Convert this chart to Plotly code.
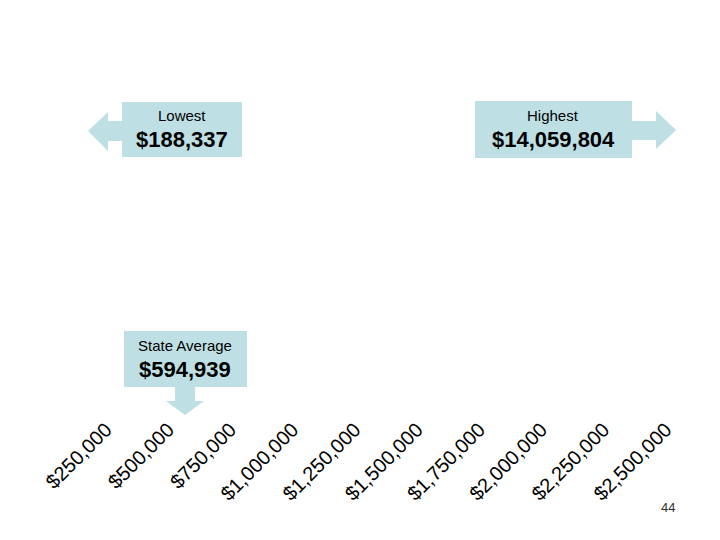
import plotly.graph_objects as go

# axis ticks (income scale)
tick_values = [250000, 500000, 750000, 1000000, 1250000, 1500000,
               1750000, 2000000, 2250000, 2500000]
tick_labels = ["$250,000", "$500,000", "$750,000", "$1,000,000", "$1,250,000",
               "$1,500,000", "$1,750,000", "$2,000,000", "$2,250,000", "$2,500,000"]

# callouts
callout_titles = ["Lowest", "Highest", "State Average"]
callout_values = ["$188,337", "$14,059,804", "$594,939"]

page_number = "44"

W, H = 720, 540
OFF = 8  # page body margin in the browser
BOTTOM = 135
PLOT_H = H - BOTTOM
BOX_COLOR = "#BEE0E4"
FONT = "Arial, Liberation Sans, sans-serif"

# pixel scale of the axis: 250,000 per tick step
px_first, px_step = 98, 62.2
x0 = tick_values[0] - px_first / px_step * 250000
x1 = x0 + W / px_step * 250000


def px(x, y):
    # screen pixel (from top-left) -> paper coords
    return (x - OFF) / W, 1 - (y - OFF) / PLOT_H


def path(points):
    pts = [px(x, y) for x, y in points]
    return "M " + " L ".join(f"{a:.5f},{b:.5f}" for a, b in pts) + " Z"


# callout outlines in pixels: box rect, arrow polygon
boxes = [
    ((122, 102, 242, 157),
     [(88, 131), (108, 112), (108, 121), (123, 121), (123, 141), (108, 141), (108, 151)]),
    ((475, 101, 632, 158),
     [(676, 130), (656, 111), (656, 121), (631, 121), (631, 140), (656, 140), (656, 149)]),
    ((124, 331, 247, 387),
     [(185, 415), (166, 401), (175, 401), (175, 386), (195, 386), (195, 401), (204, 401)]),
]
text_pos = [(182, 116, 139), (553, 116, 139), (185, 345, 369)]

fig = go.Figure()

shapes = []
for (bx0, by0, bx1, by1), arrow in boxes:
    ax0, ay0 = px(bx0, by1)
    ax1, ay1 = px(bx1, by0)
    shapes.append(dict(type="rect", xref="paper", yref="paper",
                       x0=ax0, y0=ay0, x1=ax1, y1=ay1,
                       fillcolor=BOX_COLOR, line_width=0, layer="below"))
    shapes.append(dict(type="path", xref="paper", yref="paper", path=path(arrow),
                       fillcolor=BOX_COLOR, line_width=0, layer="below"))

annotations = []
for title, value, (cx, ty, vy) in zip(callout_titles, callout_values, text_pos):
    annotations.append(dict(text=title, xref="paper", yref="paper",
                            x=px(cx, ty)[0], y=px(cx, ty)[1], showarrow=False,
                            xanchor="center", yanchor="middle",
                            font=dict(family=FONT, size=15, color="#000000")))
    annotations.append(dict(text=f"<b>{value}</b>", xref="paper", yref="paper",
                            x=px(cx, vy)[0], y=px(cx, vy)[1], showarrow=False,
                            xanchor="center", yanchor="middle",
                            font=dict(family=FONT, size=22, color="#000000")))
annotations.append(dict(text=page_number, xref="paper", yref="paper",
                        x=px(668, 507)[0], y=px(668, 507)[1], showarrow=False,
                        xanchor="center", yanchor="middle",
                        font=dict(family=FONT, size=13, color="#333333")))

fig.update_layout(
    width=W, height=H,
    margin=dict(l=0, r=0, t=0, b=BOTTOM),
    paper_bgcolor="white", plot_bgcolor="white",
    showlegend=False,
    xaxis=dict(range=[x0, x1], tickvals=tick_values, ticktext=tick_labels,
               tickangle=-45, showgrid=False, zeroline=False, showline=False,
               ticks="", tickfont=dict(family=FONT, size=20, color="#000000")),
    yaxis=dict(range=[0, 1], visible=False),
    shapes=shapes,
    annotations=annotations,
)

fig.write_html("out.html")
